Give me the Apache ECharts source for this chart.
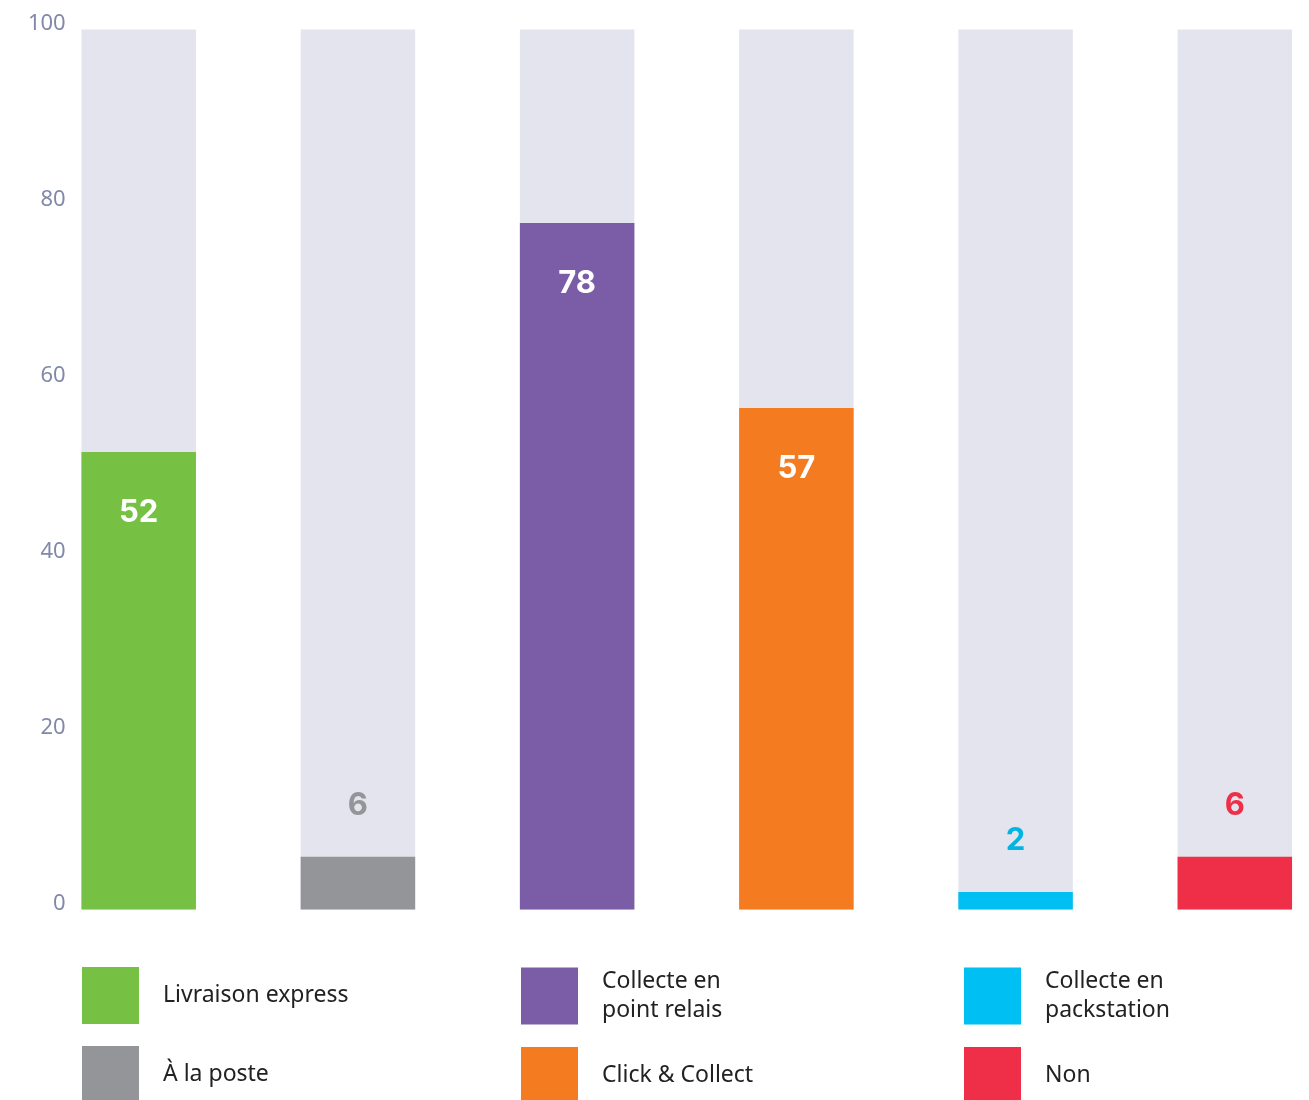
<!DOCTYPE html>
<html>
<head>
<meta charset="utf-8">
<script src="https://cdn.jsdelivr.net/npm/echarts@6/dist/echarts.min.js"></script>
<style>
  html, body { margin: 0; padding: 0; background: #ffffff; }
  #chart { width: 1309px; height: 1100px; }
</style>
</head>
<body>
<div id="chart"></div>
<script>
// Delivery options (percent of respondents)
const categories = ['Livraison express', 'À la poste', 'Collecte en point relais', 'Click & Collect', 'Collecte en packstation', 'Non'];
const legendLabels = ['Livraison express', 'À la poste', 'Collecte en\npoint relais', 'Click & Collect', 'Collecte en\npackstation', 'Non'];
const values = [52, 6, 78, 57, 2, 6];
const colors = ['#76c043', '#939598', '#7b5ca6', '#f47b20', '#00c0f3', '#ef2e47'];
const labelColors = ['#ffffff', '#939598', '#ffffff', '#ffffff', '#00b5e2', '#ef2e47'];
const trackValues = [100, 100, 100, 100, 100, 100];
const yTicks = { min: 0, max: 100, interval: 20 };

const chart = echarts.init(document.getElementById('chart'));

// Values large enough to hold their label inside the bar
const INSIDE_MIN = 20;

const series = [{
  name: '__track',
  type: 'bar',
  data: trackValues,
  barWidth: 114.5,
  barGap: '-100%',
  silent: true,
  clip: false,
  itemStyle: { color: '#e4e4ef' },
  z: 1
}];

categories.forEach((name, i) => {
  const inside = values[i] >= INSIDE_MIN;
  series.push({
    name: name,
    type: 'bar',
    barWidth: 114.5,
    barGap: '-100%',
    clip: false,
    z: 2,
    itemStyle: { color: colors[i] },
    data: categories.map((_, j) => j === i ? values[i] : '-'),
    label: {
      show: true,
      position: inside ? 'insideTop' : 'top',
      distance: inside ? 45 : 36,
      color: labelColors[i],
      fontFamily: 'Inter, Roboto, sans-serif',
      fontWeight: 'bold',
      fontSize: 31
    }
  });
});

// Three two-row legend columns under the plot
const legendCols = [[0, 1], [2, 3], [4, 5]];
const legendLeft = [82, 521, 964];
const legends = legendCols.map((idx, c) => ({
  orient: 'vertical',
  left: legendLeft[c],
  top: 967,
  height: 300,
  padding: 0,
  itemWidth: 57,
  itemHeight: 57,
  itemGap: 22,
  icon: 'rect',
  selectedMode: false,
  data: idx.map(i => categories[i]),
  formatter: n => legendLabels[categories.indexOf(n)],
  textStyle: {
    color: '#222222',
    fontFamily: '"Noto Sans", sans-serif',
    fontSize: 23,
    lineHeight: 29,
    padding: [0, 0, 0, 19]
  }
}));

chart.setOption({
  animation: false,
  backgroundColor: '#ffffff',
  grid: { left: 138.7, right: 74.2, top: 29.5, bottom: 190.5, containLabel: false },
  legend: legends,
  xAxis: {
    type: 'category',
    data: categories,
    boundaryGap: false,
    axisLine: { show: false },
    axisTick: { show: false },
    axisLabel: { show: false },
    splitLine: { show: false }
  },
  yAxis: {
    type: 'value',
    min: yTicks.min,
    max: yTicks.max,
    interval: yTicks.interval,
    axisLine: { show: false },
    axisTick: { show: false },
    splitLine: { show: false },
    axisLabel: {
      margin: 73,
      color: '#8089a9',
      fontFamily: '"Noto Sans", sans-serif',
      fontSize: 22,
      verticalAlign: 'bottom',
      lineHeight: 12
    }
  },
  series: series
});
</script>
</body>
</html>
